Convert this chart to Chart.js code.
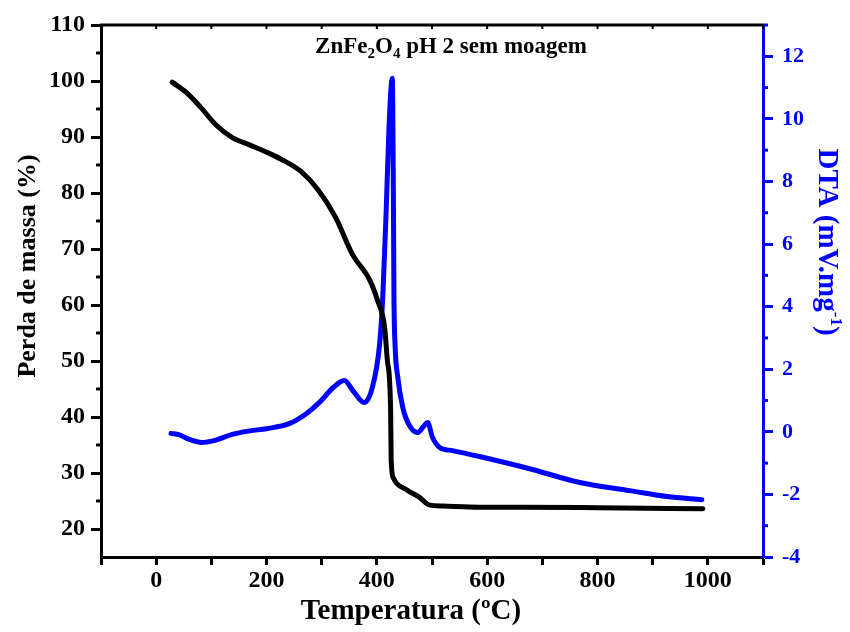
<!DOCTYPE html>
<html>
<head>
<meta charset="utf-8">
<title>ZnFe2O4 pH 2 sem moagem</title>
<script src="https://cdn.jsdelivr.net/npm/chart.js@4.4.1/dist/chart.umd.min.js"></script>
<style>
  body { margin: 0; background: #fff; }
  canvas { display: block; }
</style>
</head>
<body>
<canvas id="tga" width="850" height="632"></canvas>
<script>
// TG curve (black)
const tgTemp = [29, 54, 78, 109, 138, 169, 200, 229, 263, 294, 325, 356, 387, 401, 414, 419, 425, 426, 430, 454, 477, 495, 520, 586, 659, 800, 991];
const tgMass = [99.8, 98.0, 95.6, 92.1, 89.9, 88.6, 87.3, 85.9, 83.8, 80.5, 75.7, 69.0, 64.5, 60.9, 56.1, 50.2, 41.3, 32.3, 29.1, 27.0, 25.7, 24.3, 24.1, 23.9, 23.9, 23.8, 23.6];

// DTA curve (blue)
const dtaTemp = [27, 42, 60, 83, 105, 138, 170, 200, 241, 272, 296, 320, 341, 359, 377, 392, 405, 411, 417, 422, 428, 430, 431, 433, 438, 447, 459, 474, 486, 492, 501, 514, 537, 586, 677, 768, 858, 926, 989];
const dtaSignal = [-0.05, -0.1, -0.24, -0.34, -0.28, -0.08, 0.03, 0.1, 0.26, 0.58, 0.94, 1.4, 1.64, 1.26, 0.94, 1.43, 2.8, 4.4, 7.1, 9.7, 11.3, 7.6, 4.4, 2.8, 1.74, 0.78, 0.2, -0.02, 0.2, 0.3, -0.18, -0.5, -0.6, -0.79, -1.18, -1.62, -1.88, -2.07, -2.17];

// tick values
const tempTicks = [-100, 0, 100, 200, 300, 400, 500, 600, 700, 800, 900, 1000, 1100];
const tempLabels = [0, 200, 400, 600, 800, 1000];
const massTicks = [20, 30, 40, 50, 60, 70, 80, 90, 100, 110];
const massMinor = [25, 35, 45, 55, 65, 75, 85, 95, 105];
const dtaTicks = [-4, -2, 0, 2, 4, 6, 8, 10, 12];
const dtaMinor = [-3, -1, 1, 3, 5, 7, 9, 11, 13];

const BLUE = '#0000ff';
const SERIF = "'Liberation Serif', 'Times New Roman', serif";

function toPoints(xs, ys) {
  return xs.map((x, i) => ({ x: x, y: ys[i] }));
}

// extra drawing: minor ticks, top frame and the titles with sub/superscripts
const decorations = {
  id: 'decorations',
  afterDraw(chart) {
    const ctx = chart.ctx;
    const area = chart.chartArea;
    const x = chart.scales.x, y = chart.scales.y, y2 = chart.scales.y2;
    ctx.save();

    // minor ticks
    ctx.lineWidth = 3;
    ctx.strokeStyle = '#000';
    massMinor.forEach(v => {
      const py = y.getPixelForValue(v);
      ctx.beginPath(); ctx.moveTo(area.left - 5, py); ctx.lineTo(area.left, py); ctx.stroke();
    });
    ctx.strokeStyle = BLUE;
    dtaMinor.forEach(v => {
      const py = y2.getPixelForValue(v);
      ctx.beginPath(); ctx.moveTo(area.right, py); ctx.lineTo(area.right + 5, py); ctx.stroke();
    });

    // top frame with small inward ticks
    ctx.strokeStyle = '#000';
    ctx.beginPath(); ctx.moveTo(area.left - 1, area.top); ctx.lineTo(area.right, area.top); ctx.stroke();
    ctx.lineWidth = 2;
    tempTicks.forEach(v => {
      const px = x.getPixelForValue(v);
      ctx.beginPath(); ctx.moveTo(px, area.top); ctx.lineTo(px, area.top + 4); ctx.stroke();
    });

    // left axis title
    ctx.fillStyle = '#000';
    ctx.textAlign = 'center';
    ctx.textBaseline = 'middle';
    ctx.font = 'bold 26px ' + SERIF;
    ctx.save();
    ctx.translate(28, 266);
    ctx.rotate(-Math.PI / 2);
    ctx.fillText('Perda de massa (%)', 0, 0);
    ctx.restore();

    // bottom axis title
    ctx.font = 'bold 29px ' + SERIF;
    ctx.fillText('Temperatura (ºC)', 411, 612);

    // right axis title, reads top to bottom, with superscript
    ctx.save();
    ctx.translate(829, 242);
    ctx.rotate(Math.PI / 2);
    ctx.fillStyle = BLUE;
    ctx.textAlign = 'left';
    ctx.textBaseline = 'alphabetic';
    const bigFont = 'bold 29px ' + SERIF, smallFont = 'bold 17px ' + SERIF;
    ctx.font = bigFont;
    const w1 = ctx.measureText('DTA (mV.mg').width;
    const w3 = ctx.measureText(')').width;
    ctx.font = smallFont;
    const w2 = ctx.measureText('-1').width;
    let cx = -(w1 + w2 + w3) / 2;
    ctx.font = bigFont;
    ctx.fillText('DTA (mV.mg', cx, 10);
    cx += w1;
    ctx.font = smallFont;
    ctx.fillText('-1', cx, -2);
    cx += w2;
    ctx.font = bigFont;
    ctx.fillText(')', cx, 10);
    ctx.restore();

    // chart title with subscripts
    const parts = [
      ['ZnFe', false], ['2', true], ['O', false], ['4', true], [' pH 2 sem moagem', false]
    ];
    const normal = 'bold 23px ' + SERIF, sub = 'bold 15px ' + SERIF;
    ctx.textAlign = 'left';
    ctx.textBaseline = 'alphabetic';
    let total = 0;
    parts.forEach(p => { ctx.font = p[1] ? sub : normal; total += ctx.measureText(p[0]).width; });
    let tx = 451 - total / 2;
    parts.forEach(p => {
      ctx.font = p[1] ? sub : normal;
      ctx.fillText(p[0], tx, p[1] ? 58 : 53);
      tx += ctx.measureText(p[0]).width;
    });

    ctx.restore();
  }
};

new Chart(document.getElementById('tga'), {
  type: 'line',
  data: {
    datasets: [
      {
        label: 'TG',
        data: toPoints(tgTemp, tgMass),
        yAxisID: 'y',
        borderColor: '#000',
        borderWidth: 5,
        pointRadius: 0,
        cubicInterpolationMode: 'monotone',
        borderCapStyle: 'round',
        borderJoinStyle: 'round'
      },
      {
        label: 'DTA',
        data: toPoints(dtaTemp, dtaSignal),
        yAxisID: 'y2',
        borderColor: BLUE,
        borderWidth: 5,
        pointRadius: 0,
        cubicInterpolationMode: 'monotone',
        borderCapStyle: 'round',
        borderJoinStyle: 'round'
      }
    ]
  },
  options: {
    responsive: false,
    animation: false,
    layout: { padding: { top: 25, left: 0, right: 0, bottom: 0 } },
    plugins: {
      legend: { display: false },
      tooltip: { enabled: false }
    },
    scales: {
      x: {
        type: 'linear',
        min: -100,
        max: 1100,
        afterBuildTicks: s => { s.ticks = tempTicks.map(v => ({ value: v })); },
        afterFit: s => { s.height = 75; },
        ticks: {
          color: '#000',
          font: { family: SERIF, size: 24, weight: 'bold' },
          padding: 1,
          maxRotation: 0,
          autoSkip: false,
          callback: v => tempLabels.includes(v) ? String(v) : ''
        },
        grid: { drawOnChartArea: false, tickLength: 8, tickWidth: 3, tickColor: '#000' },
        border: { color: '#000', width: 3 }
      },
      y: {
        position: 'left',
        min: 15,
        max: 110,
        afterBuildTicks: s => { s.ticks = massTicks.map(v => ({ value: v })); },
        afterFit: s => { s.width = 101; },
        ticks: {
          color: '#000',
          font: { family: SERIF, size: 24, weight: 'bold' },
          padding: 6,
          autoSkip: false
        },
        grid: { drawOnChartArea: false, tickLength: 10, tickWidth: 3, tickColor: '#000' },
        border: { color: '#000', width: 3 }
      },
      y2: {
        position: 'right',
        min: -4,
        max: 13,
        afterBuildTicks: s => { s.ticks = dtaTicks.map(v => ({ value: v })); },
        afterFit: s => { s.width = 87; },
        ticks: {
          color: BLUE,
          font: { family: SERIF, size: 22, weight: 'bold' },
          padding: 9,
          autoSkip: false
        },
        grid: { drawOnChartArea: false, tickLength: 10, tickWidth: 3, tickColor: BLUE },
        border: { color: BLUE, width: 3 }
      }
    }
  },
  plugins: [decorations]
});
</script>
</body>
</html>
